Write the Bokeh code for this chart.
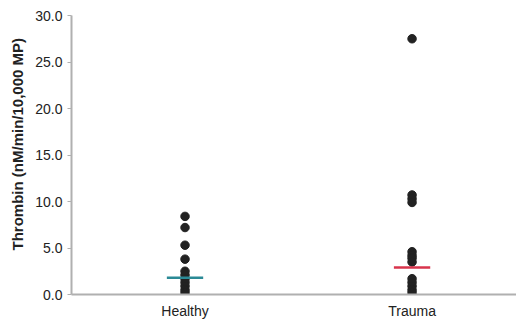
from bokeh.plotting import figure
from bokeh.embed import file_html
from bokeh.resources import INLINE
from bokeh.models import Range1d, FixedTicker, ColumnDataSource, Title

categories = ["Healthy", "Trauma"]
cat_pos = [1, 2]
healthy_values = [8.4, 7.2, 5.3, 3.8, 2.5, 2.1, 1.7, 1.3, 0.9, 0.5, 0.2]
trauma_values = [27.5, 10.7, 10.3, 9.9, 4.6, 4.2, 3.9, 3.5, 1.7, 1.3, 0.9, 0.5, 0.2]
medians = [1.8, 2.9]
median_colors = ["#2b8a96", "#d8344c"]
y_ticks = [0, 5, 10, 15, 20, 25, 30]
y_title = "Thrombin (nM/min/10,000 MP)"

xs = [cat_pos[0]] * len(healthy_values) + [cat_pos[1]] * len(trauma_values)
ys = healthy_values + trauma_values
src = ColumnDataSource(dict(x=xs, y=ys))

p = figure(width=516, height=322, output_backend="svg", toolbar_location=None,
           x_range=Range1d(0.5, 2.46), y_range=Range1d(0, 30),
           min_border_left=71, min_border_right=0, min_border_top=15, min_border_bottom=28)
p.outline_line_color = None
p.grid.visible = False
p.background_fill_color = "white"

p.scatter("x", "y", source=src, size=8.5, color="#222222")
for xc, m, c in zip(cat_pos, medians, median_colors):
    p.segment(x0=[xc - 0.08], x1=[xc + 0.08], y0=[m], y1=[m], line_color=c, line_width=2.5)

p.xaxis.ticker = FixedTicker(ticks=cat_pos)
p.xaxis.major_label_overrides = {c: n for c, n in zip(cat_pos, categories)}
p.yaxis.ticker = FixedTicker(ticks=y_ticks)
p.yaxis.major_label_overrides = {t: f"{t:.1f}" for t in y_ticks}

for ax in (p.xaxis, p.yaxis):
    ax.axis_line_color = "#b0b0b0"
    ax.axis_line_width = 2
    ax.major_label_text_font = "Liberation Sans"
    ax.major_label_text_font_size = "14px"
    ax.major_label_text_color = "#222222"
    ax.minor_tick_line_color = None

p.xaxis.major_tick_line_color = None
p.xaxis.major_label_standoff = 2
p.yaxis.major_tick_line_color = "#b0b0b0"
p.yaxis.major_tick_out = 4
p.yaxis.major_tick_in = 0
p.yaxis.major_label_standoff = 5

title = Title(text=y_title, align="left", offset=44, standoff=13,
              text_font="Liberation Sans", text_font_style="bold",
              text_font_size="15px", text_color="#222222")
p.add_layout(title, "left")

open("out.html", "w").write(file_html(p, INLINE))
